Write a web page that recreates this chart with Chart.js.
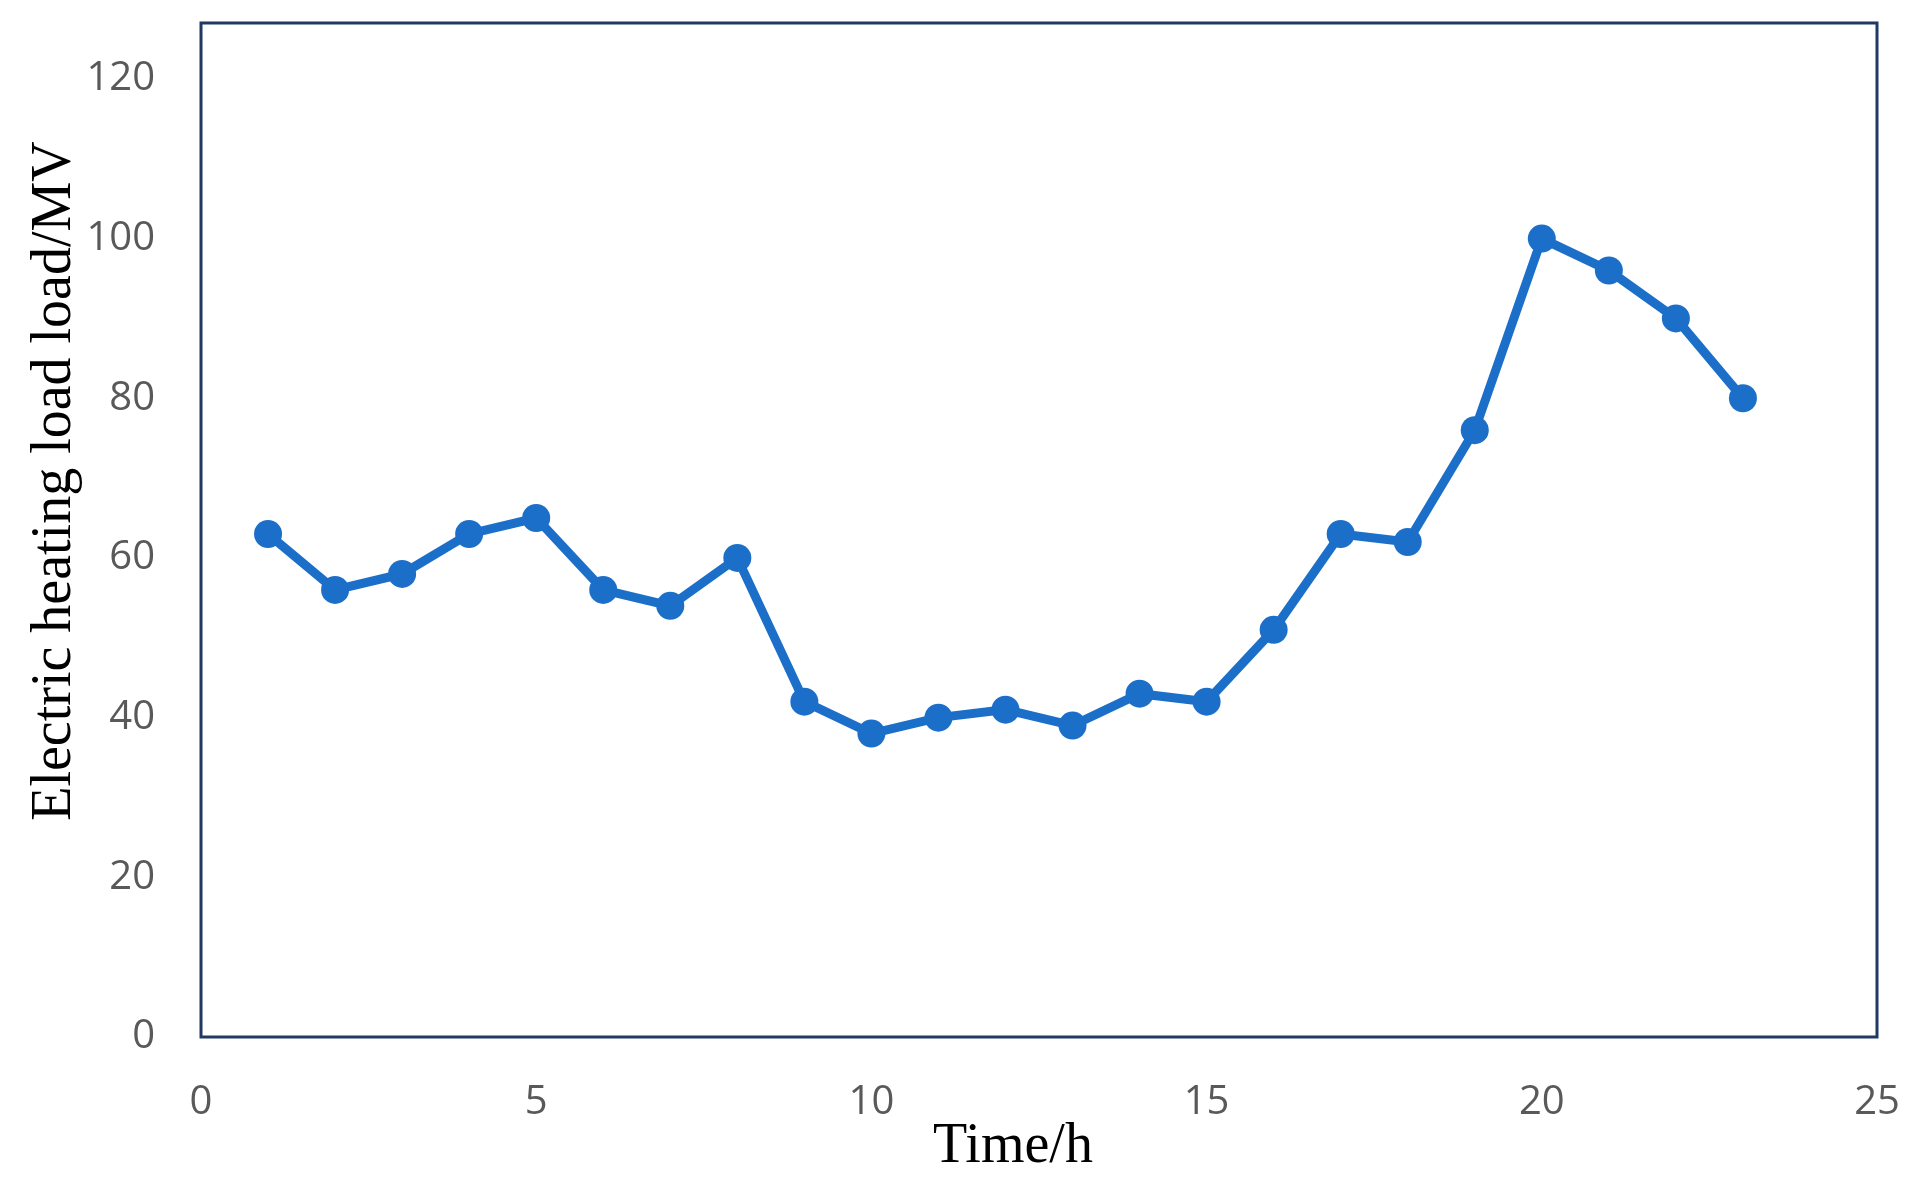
<!DOCTYPE html>
<html>
<head>
<meta charset="utf-8">
<script src="https://cdn.jsdelivr.net/npm/chart.js@4/dist/chart.umd.min.js"></script>
<style>
  html, body { margin: 0; padding: 0; background: #fff; }
  #wrap { width: 1909px; height: 1187px; }
</style>
</head>
<body>
<div id="wrap"><canvas id="myChart"></canvas></div>
<script>
// hours of the day
var hours = [1,2,3,4,5,6,7,8,9,10,11,12,13,14,15,16,17,18,19,20,21,22,23];
// Electric heating load (MV)
var load = [63,56,58,63,65,56,54,60,42,38,40,41,39,43,42,51,63,62,76,100,96,90,80];
// tick labels
var xTicks = [0,5,10,15,20,25];
var yTicks = [0,20,40,60,80,100,120];

var xTitle = "Time/h";
var yTitle = "Electric heating load load/MV";

var points = [];
for (var i = 0; i < hours.length; i++) {
    points.push({ x: hours[i], y: load[i] });
}

// frame round the plot + axis titles in serif
var framePlugin = {
    id: 'frame',
    afterDraw: function(chart) {
        var ctx = chart.ctx;
        var a = chart.chartArea;
        ctx.save();
        ctx.strokeStyle = '#1f3864';
        ctx.lineWidth = 3;
        ctx.strokeRect(a.left, a.top, a.right - a.left, a.bottom - a.top);

        ctx.fillStyle = '#000';
        ctx.font = '56px "Liberation Serif", "Times New Roman", serif';
        ctx.textAlign = 'center';
        ctx.textBaseline = 'middle';
        ctx.fillText(xTitle, 1013, 1147);

        ctx.translate(55, 481);
        ctx.rotate(-Math.PI / 2);
        ctx.fillText(yTitle, 0, 0);
        ctx.restore();
    }
};

const ctx = document.getElementById('myChart').getContext('2d');
const myChart = new Chart(ctx, {
    type: 'line',
    data: {
        datasets: [{
            label: 'load',
            data: points,
            borderColor: '#1c6fc9',
            backgroundColor: '#1c6fc9',
            borderWidth: 9,
            pointRadius: 14,
            pointBorderWidth: 0,
            pointBackgroundColor: '#1c6fc9',
            tension: 0
        }]
    },
    options: {
        responsive: true,
        maintainAspectRatio: false,
        animation: false,
        layout: { padding: { top: 23, right: 32, left: 0, bottom: 0 } },
        plugins: {
            legend: { display: false },
            tooltip: { enabled: false }
        },
        scales: {
            x: {
                type: 'linear',
                min: 0,
                max: 25,
                afterBuildTicks: function(scale) {
                    scale.ticks = xTicks.map(function(v) { return { value: v }; });
                },
                afterFit: function(scale) {
                    scale.height = 150;
                    scale.paddingLeft = 0;
                    scale.paddingRight = 0;
                },
                grid: { display: false, drawTicks: false },
                border: { display: false },
                ticks: {
                    padding: 42,
                    maxRotation: 0,
                    autoSkip: false,
                    color: '#595959',
                    font: { family: '"Open Sans", sans-serif', size: 40 }
                }
            },
            y: {
                type: 'linear',
                min: 0,
                max: 127,
                afterBuildTicks: function(scale) {
                    scale.ticks = yTicks.map(function(v) { return { value: v }; });
                },
                afterFit: function(scale) {
                    scale.width = 201;
                    scale.paddingTop = 0;
                    scale.paddingBottom = 0;
                },
                grid: { display: false, drawTicks: false },
                border: { display: false },
                ticks: {
                    padding: 46,
                    color: '#595959',
                    font: { family: '"Open Sans", sans-serif', size: 40 }
                }
            }
        }
    },
    plugins: [framePlugin]
});
</script>
</body>
</html>
